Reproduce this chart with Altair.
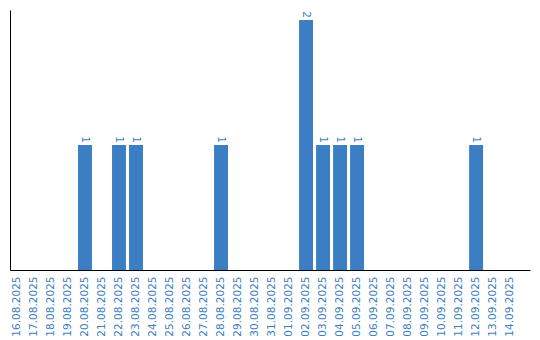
import altair as alt
import pandas as pd

dates = ["16.08.2025", "17.08.2025", "18.08.2025", "19.08.2025", "20.08.2025",
         "21.08.2025", "22.08.2025", "23.08.2025", "24.08.2025", "25.08.2025",
         "26.08.2025", "27.08.2025", "28.08.2025", "29.08.2025", "30.08.2025",
         "31.08.2025", "01.09.2025", "02.09.2025", "03.09.2025", "04.09.2025",
         "05.09.2025", "06.09.2025", "07.09.2025", "08.09.2025", "09.09.2025",
         "10.09.2025", "11.09.2025", "12.09.2025", "13.09.2025", "14.09.2025"]
counts = [0, 0, 0, 0, 1, 0, 1, 1, 0, 0, 0, 0, 1, 0, 0,
          0, 0, 2, 1, 1, 1, 0, 0, 0, 0, 0, 0, 1, 0, 0]

df = pd.DataFrame({"date": dates, "count": counts})
df["label"] = df["count"].apply(lambda v: str(v) if v > 0 else "")

BLUE = "#3b7ec3"
FONT = "DejaVu Sans"

x = alt.X("date:N", sort=dates, title=None,
          scale=alt.Scale(paddingInner=0.18, paddingOuter=0.38, align=0),
          axis=alt.Axis(labelAngle=270, labelColor=BLUE, labelFont=FONT,
                        labelFontSize=10.5, ticks=False, labelPadding=6,
                        domainColor="black", domainWidth=1, labelOverlap=False))
y = alt.Y("count:Q", title=None,
          scale=alt.Scale(domain=[0, 2.08], nice=False),
          axis=alt.Axis(labels=False, ticks=False, grid=False,
                        domainColor="black", domainWidth=1))

bars = alt.Chart(df).mark_bar(color=BLUE).encode(x=x, y=y)
text = alt.Chart(df).mark_text(angle=90, align="right", baseline="middle",
                               dx=-2, color=BLUE, font=FONT, fontSize=10.5).encode(
    x=alt.X("date:N", sort=dates), y="count:Q", text="label:N")

chart = (bars + text).properties(
    width=520, height=260,
    padding={"left": 10, "top": 10, "right": 10, "bottom": 70},
    autosize=alt.AutoSizeParams(type="none"),
).configure(background="white", view=alt.ViewConfig(stroke=None))

chart.save("out.html", embed_options={"renderer": "svg", "actions": False})
